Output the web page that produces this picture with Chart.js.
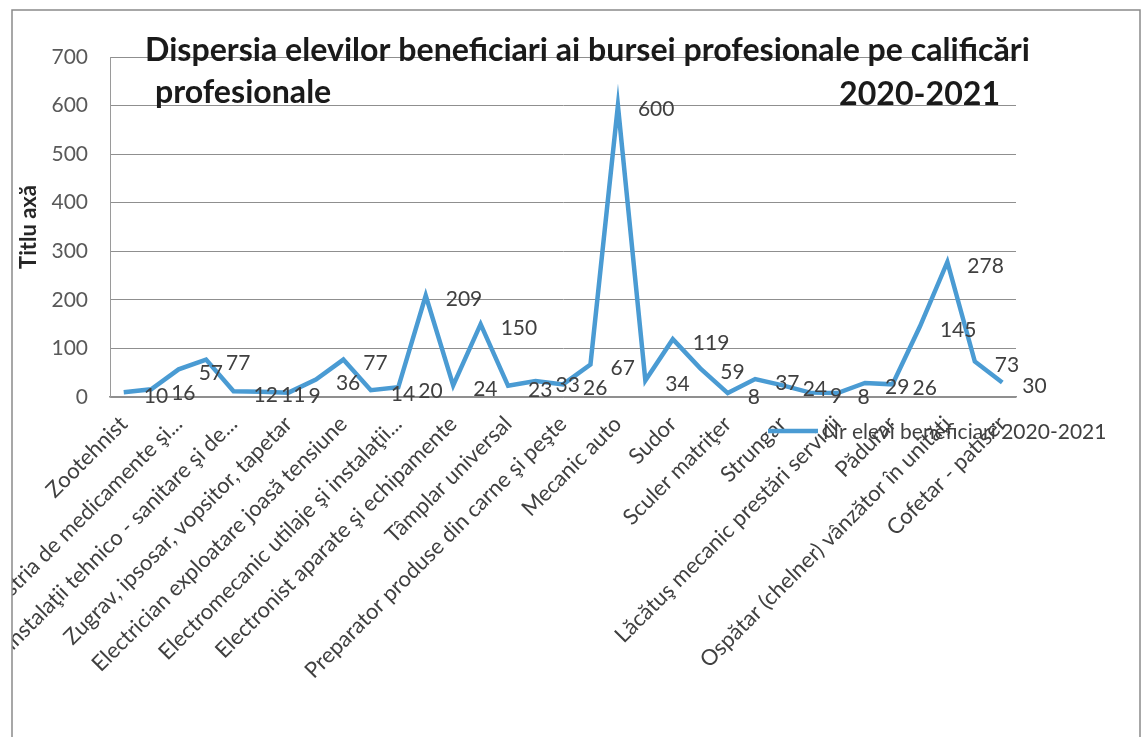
<!DOCTYPE html>
<html>
<head>
<meta charset="utf-8">
<script src="https://cdn.jsdelivr.net/npm/chart.js@4.4.0/dist/chart.umd.min.js"></script>
<style>
html,body{margin:0;padding:0;background:#fff;}
#wrap{width:1142px;height:737px;position:relative;}
</style>
</head>
<body>
<div id="wrap"><canvas id="c"></canvas></div>
<script>
// ---- data ----
const categories = [
  'Zootehnist', '',
  'Operator industria de medicamente şi...', '',
  'Instalator instalaţii tehnico - sanitare şi de...', '',
  'Zugrav, ipsosar, vopsitor, tapetar', '',
  'Electrician exploatare joasă tensiune', '',
  'Electromecanic utilaje şi instalaţii...', '',
  'Electronist aparate şi echipamente', '',
  'Tâmplar universal', '',
  'Preparator produse din carne şi peşte', '',
  'Mecanic auto', '',
  'Sudor', '',
  'Sculer matriţer', '',
  'Strungar', '',
  'Lăcătuş mecanic prestări servicii', '',
  'Pădurar', '',
  'Ospătar (chelner) vânzător în unităţi', '',
  'Cofetar - patiser'
];
const values = [10,16,57,77,12,11,9,36,77,14,20,209,24,150,23,33,26,67,600,34,119,59,8,37,24,9,8,29,26,145,278,73,30];
const yTicks = [0,100,200,300,400,500,600,700];
const seriesName = 'Nr elevi beneficiari 2020-2021';
const titleLine1 = 'Dispersia elevilor beneficiari ai bursei profesionale pe calificări';
const titleLine2a = 'profesionale';
const titleLine2b = '2020-2021';
const yAxisTitle = 'Titlu axă';

const LINE_COLOR = '#4a9bd3';
const FONT = 'Lato, "Open Sans", sans-serif';

const framePlugin = {
  id: 'frame',
  beforeDraw(chart) {
    const ctx = chart.ctx;
    ctx.save();
    ctx.fillStyle = '#ffffff';
    ctx.fillRect(0, 0, chart.width, chart.height);
    ctx.beginPath();
    ctx.rect(12, 10, chart.width - 14, chart.height);
    ctx.clip();
  },
  afterDraw(chart) {
    const ctx = chart.ctx;
    // title
    ctx.fillStyle = '#1a1a1a';
    ctx.textBaseline = 'alphabetic';
    ctx.textAlign = 'left';
    ctx.font = 'bold 100px ' + FONT;
    const w = ctx.measureText(titleLine1).width;
    const size = 100 * 885 / w;
    ctx.font = 'bold ' + size.toFixed(2) + 'px ' + FONT;
    ctx.fillText(titleLine1, 145, 61);
    ctx.fillText(titleLine2a, 155, 103);
    ctx.textAlign = 'right';
    ctx.fillText(titleLine2b, 1000, 105);
    // legend
    const ly = 431;
    ctx.strokeStyle = LINE_COLOR;
    ctx.lineWidth = 4.5;
    ctx.beginPath();
    ctx.moveTo(768, ly);
    ctx.lineTo(818, ly);
    ctx.stroke();
    ctx.fillStyle = '#404040';
    ctx.textAlign = 'left';
    ctx.textBaseline = 'middle';
    ctx.font = '21px ' + FONT;
    ctx.fillText(chart.data.datasets[0].label, 823, ly + 1);
    ctx.restore();
    // outer border
    ctx.save();
    ctx.strokeStyle = '#8a8a8a';
    ctx.lineWidth = 1.5;
    ctx.beginPath();
    ctx.moveTo(12, chart.height);
    ctx.lineTo(12, 10);
    ctx.lineTo(chart.width - 2, 10);
    ctx.lineTo(chart.width - 2, chart.height);
    ctx.stroke();
    ctx.restore();
  }
};

const valueLabelPlugin = {
  id: 'valueLabels',
  afterDatasetsDraw(chart) {
    const ctx = chart.ctx;
    const meta = chart.getDatasetMeta(0);
    const data = chart.data.datasets[0].data;
    ctx.save();
    ctx.fillStyle = '#404040';
    ctx.font = '21px ' + FONT;
    ctx.textAlign = 'left';
    ctx.textBaseline = 'middle';
    meta.data.forEach((pt, i) => {
      ctx.fillText(String(data[i]), pt.x + 20, pt.y + 4);
    });
    ctx.restore();
  }
};

new Chart(document.getElementById('c'), {
  type: 'line',
  data: {
    labels: categories,
    datasets: [{
      label: seriesName,
      data: values,
      borderColor: LINE_COLOR,
      backgroundColor: LINE_COLOR,
      borderWidth: 4.5,
      pointRadius: 0,
      tension: 0,
      fill: false
    }]
  },
  options: {
    responsive: true,
    maintainAspectRatio: false,
    animation: false,
    layout: { padding: { top: 57, right: 126, left: 0, bottom: 0 } },
    plugins: {
      legend: { display: false },
      title: { display: false },
      tooltip: { enabled: false }
    },
    scales: {
      x: {
        type: 'category',
        offset: true,
        grid: { display: false, drawTicks: false },
        border: { display: true, color: '#8f8f8f', width: 1.5 },
        ticks: {
          autoSkip: false, minRotation: 45, maxRotation: 45,
          color: '#404040', font: { family: FONT, size: 22 }, padding: 14
        },
        afterFit(s) { s.height = 737 - 397; }
      },
      y: {
        min: 0, max: 700,
        afterBuildTicks(s) { s.ticks = yTicks.map(v => ({ value: v })); },
        ticks: { color: '#595959', font: { family: FONT, size: 21 }, padding: 22 },
        grid: { color: '#8f8f8f', lineWidth: 1, drawTicks: false },
        border: { display: true, color: '#9a9a9a', width: 1 },
        title: {
          display: true, text: yAxisTitle, color: '#262626',
          font: { family: FONT, size: 22, weight: 'bold' },
          padding: { top: 16, bottom: 0 }
        },
        afterFit(s) { s.width = 110; }
      }
    }
  },
  plugins: [framePlugin, valueLabelPlugin]
});
</script>
</body>
</html>
